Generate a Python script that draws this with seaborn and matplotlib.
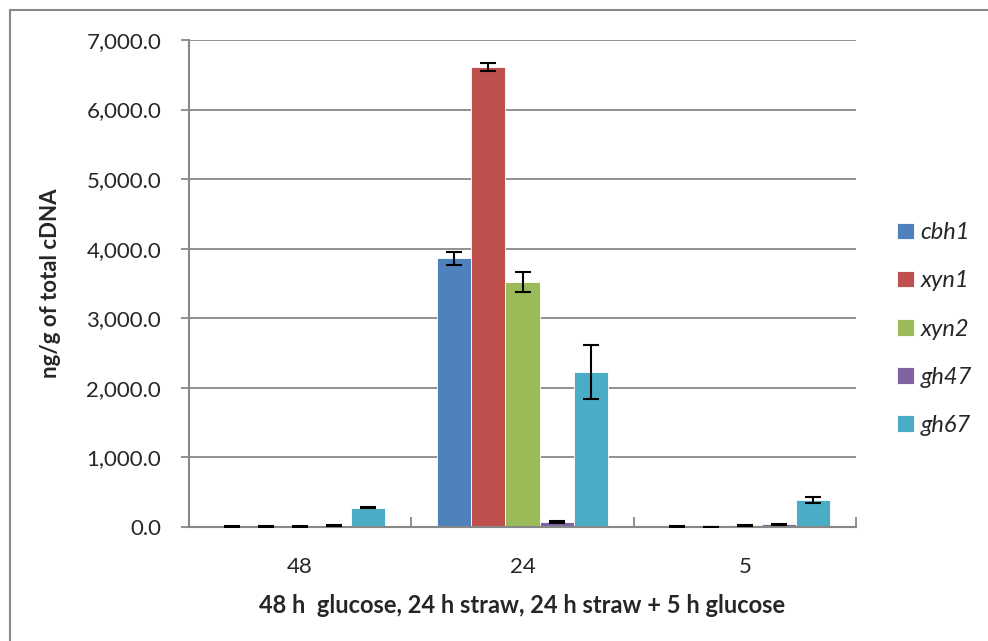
import numpy as np
import pandas as pd
import seaborn as sns
import matplotlib.pyplot as plt
from matplotlib.lines import Line2D
from matplotlib.ticker import FuncFormatter

# values (ng/g of total cDNA)
times = ["48", "24", "5"]
genes = ["cbh1", "xyn1", "xyn2", "gh47", "gh67"]
cbh1 = [10, 3860, 5]
xyn1 = [5, 6610, 3]
xyn2 = [10, 3520, 25]
gh47 = [20, 70, 40]
gh67 = [280, 2230, 390]
err_cbh1 = [5, 95, 3]
err_xyn1 = [3, 60, 2]
err_xyn2 = [5, 145, 8]
err_gh47 = [6, 10, 6]
err_gh67 = [10, 390, 45]

colors = ["#4F81BD", "#C0504D", "#9BBB59", "#8064A2", "#4BACC6"]

vals = [cbh1, xyn1, xyn2, gh47, gh67]
errs = [err_cbh1, err_xyn1, err_xyn2, err_gh47, err_gh67]
df = pd.DataFrame({
    "time": times * len(genes),
    "gene": np.repeat(genes, len(times)),
    "value": np.concatenate(vals),
})

sns.set_style("white")
plt.rcParams["font.family"] = ["Lato", "DejaVu Sans"]

fig = plt.figure(figsize=(9.88, 6.41), dpi=100)
ax = fig.add_axes([0.1913, 0.1778, 0.6751, 0.7598])

sns.barplot(data=df, x="time", y="value", hue="gene", order=times, hue_order=genes,
            palette=colors, saturation=1, width=0.765, edgecolor="white",
            linewidth=0.6, errorbar=None, ax=ax)

"""error bars"""
for cont, e in zip(ax.containers, errs):
    xs = [b.get_x() + b.get_width() / 2 for b in cont]
    ys = [b.get_height() for b in cont]
    ax.errorbar(xs, ys, yerr=e, fmt="none", ecolor="black", elinewidth=1.5,
                capsize=6, capthick=1.5, zorder=5)

ax.set_ylim(0, 7000)
ax.set_xlim(-0.5, 2.5)
ax.set_yticks(range(0, 7001, 1000))
ax.yaxis.set_major_formatter(FuncFormatter(lambda v, p: f"{v:,.1f}"))
ax.grid(axis="y", color="#888888", linewidth=1.3)
ax.set_axisbelow(True)
for s in ["top", "right"]:
    ax.spines[s].set_visible(False)
for s in ["left", "bottom"]:
    ax.spines[s].set_color("#888888")
    ax.spines[s].set_linewidth(1.5)

ax.tick_params(axis="y", left=True, length=6, width=1.3, color="#888888",
               labelsize=16, pad=14)
ax.tick_params(axis="x", bottom=False, labelsize=16, pad=18)
ax.set_xticks([0.5, 1.5, 2.5], minor=True)
ax.tick_params(axis="x", which="minor", bottom=True, direction="in", length=7,
               width=1.3, color="#888888")

ax.set_ylabel("ng/g of total cDNA", fontsize=16, fontweight="bold", labelpad=18)
ax.set_xlabel("48 h  glucose, 24 h straw, 24 h straw + 5 h glucose",
              fontsize=17, fontweight="bold", labelpad=12)

leg = ax.legend(loc="center left", bbox_to_anchor=(0.908, 1 - 329 / 641),
                bbox_transform=fig.transFigure, frameon=False,
                prop={"style": "italic", "size": 17}, labelspacing=1.15,
                handlelength=0.7, handleheight=0.7, handletextpad=0.3,
                borderpad=0, borderaxespad=0)

"""outer frame"""
fig.add_artist(Line2D([10 / 988, 10 / 988], [0, 1 - 10 / 641], color="#888888",
                      lw=1.5, transform=fig.transFigure))
fig.add_artist(Line2D([10 / 988, 1], [1 - 10 / 641, 1 - 10 / 641], color="#888888",
                      lw=1.5, transform=fig.transFigure))

fig.savefig("out.png", dpi=100)
